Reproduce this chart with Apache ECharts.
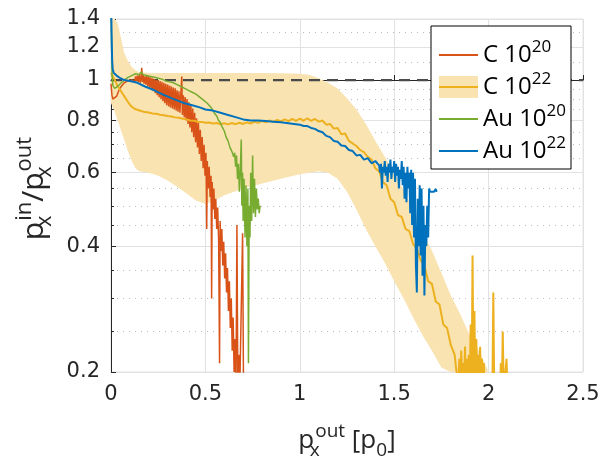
<!DOCTYPE html>
<html><head><meta charset="utf-8">
<script src="https://cdn.jsdelivr.net/npm/echarts@6/dist/echarts.min.js"></script>
<style>html,body{margin:0;padding:0;background:#fff}#c{width:613px;height:458px}</style>
</head><body><div id="c"></div>
<script>
// ---------- data ----------
const xTicks = [0, 0.5, 1, 1.5, 2, 2.5];
const yTicks = [0.2, 0.4, 0.6, 0.8, 1, 1.2, 1.4];
const yMinorTicks = [0.25, 0.3, 0.35, 0.45, 0.5, 0.55, 0.65, 0.7, 0.75, 0.85, 0.9, 0.95, 1.1, 1.3];
const unityLine = [[0, 1], [2.5, 1]];

const c20 = [[0,0.98],[0.005,0.92],[0.01,0.9],[0.02,0.9],[0.03,0.915],[0.04,0.94],[0.05,0.96],[0.07,0.985],[0.09,0.995],[0.1,1.0],[0.11,1.0],[0.12,1.01],[0.125,0.99],[0.13,1.02],[0.135,0.995],[0.14,1.025],[0.145,0.99],[0.15,1.03],[0.155,0.985],[0.16,1.02],[0.163,1.07],[0.166,0.99],[0.17,1.03],[0.175,0.98],[0.18,1.02],[0.185,0.975],[0.19,1.025],[0.195,0.965],[0.2,1.02],[0.205,0.96],[0.21,1.015],[0.215,0.95],[0.22,1.01],[0.225,0.94],[0.23,1.005],[0.235,0.93],[0.24,1.0],[0.245,0.92],[0.25,1.0],[0.255,0.91],[0.26,0.995],[0.265,0.9],[0.27,0.99],[0.275,0.89],[0.28,0.985],[0.285,0.88],[0.29,0.98],[0.295,0.87],[0.3,0.975],[0.305,0.865],[0.31,0.97],[0.315,0.86],[0.32,0.965],[0.325,0.855],[0.33,0.96],[0.335,0.85],[0.34,0.955],[0.345,0.845],[0.35,0.945],[0.355,0.84],[0.36,0.94],[0.365,0.835],[0.37,0.93],[0.375,1.02],[0.378,0.825],[0.383,0.92],[0.388,0.815],[0.393,0.91],[0.398,0.8],[0.403,0.9],[0.408,0.785],[0.413,0.885],[0.418,0.77],[0.423,0.87],[0.428,0.75],[0.433,0.855],[0.438,0.73],[0.443,0.835],[0.448,0.71],[0.453,0.81],[0.458,0.69],[0.463,0.79],[0.468,0.665],[0.473,0.76],[0.478,0.64],[0.483,0.73],[0.488,0.615],[0.493,0.7],[0.498,0.59],[0.503,0.67],[0.507,0.44],[0.51,0.64],[0.515,0.55],[0.52,0.62],[0.525,0.525],[0.53,0.59],[0.533,0.3],[0.536,0.57],[0.54,0.49],[0.545,0.55],[0.55,0.465],[0.555,0.52],[0.56,0.44],[0.565,0.495],[0.57,0.415],[0.575,0.21],[0.578,0.46],[0.582,0.39],[0.587,0.44],[0.592,0.36],[0.597,0.41],[0.602,0.335],[0.607,0.385],[0.612,0.31],[0.617,0.355],[0.622,0.28],[0.627,0.33],[0.632,0.255],[0.637,0.3],[0.642,0.225],[0.647,0.27],[0.652,0.2],[0.657,0.24],[0.662,0.18],[0.667,0.45],[0.672,0.18],[0.677,0.22],[0.682,0.18],[0.692,0.18],[0.697,0.43],[0.702,0.18]];

const c22 = [[0,1.04],[0.005,1.03],[0.01,1.02],[0.02,1.0],[0.03,0.978],[0.04,0.96],[0.05,0.945],[0.06,0.93],[0.07,0.915],[0.08,0.9],[0.09,0.886],[0.1,0.873],[0.11,0.863],[0.12,0.856],[0.13,0.851],[0.14,0.847],[0.16,0.843],[0.18,0.838],[0.2,0.836],[0.22,0.832],[0.24,0.83],[0.26,0.826],[0.28,0.824],[0.3,0.82],[0.32,0.818],[0.34,0.814],[0.36,0.812],[0.38,0.808],[0.4,0.805],[0.42,0.8],[0.44,0.799],[0.46,0.795],[0.48,0.794],[0.5,0.79],[0.52,0.791],[0.54,0.787],[0.56,0.789],[0.58,0.784],[0.6,0.788],[0.62,0.783],[0.64,0.789],[0.66,0.784],[0.68,0.79],[0.7,0.785],[0.72,0.792],[0.74,0.787],[0.76,0.795],[0.78,0.79],[0.8,0.798],[0.82,0.792],[0.84,0.8],[0.86,0.794],[0.88,0.803],[0.9,0.796],[0.92,0.805],[0.94,0.797],[0.96,0.807],[0.98,0.798],[1.0,0.808],[1.02,0.799],[1.04,0.81],[1.06,0.798],[1.08,0.807],[1.1,0.795],[1.12,0.8],[1.14,0.782],[1.16,0.785],[1.18,0.765],[1.2,0.768],[1.22,0.742],[1.24,0.745],[1.26,0.715],[1.28,0.705],[1.3,0.695],[1.32,0.68],[1.34,0.672],[1.36,0.655],[1.38,0.645],[1.4,0.615],[1.42,0.605],[1.44,0.57],[1.46,0.56],[1.48,0.52],[1.5,0.51],[1.52,0.475],[1.54,0.47],[1.56,0.44],[1.58,0.435],[1.6,0.405],[1.62,0.395],[1.64,0.37],[1.66,0.36],[1.68,0.33],[1.7,0.325],[1.72,0.295],[1.74,0.29],[1.76,0.26],[1.78,0.255],[1.8,0.232],[1.82,0.22],[1.83,0.2],[1.84,0.19],[1.845,0.215],[1.85,0.19],[1.855,0.225],[1.86,0.19],[1.865,0.21],[1.87,0.185],[1.875,0.23],[1.88,0.185],[1.885,0.215],[1.89,0.18],[1.895,0.22],[1.9,0.18],[1.905,0.26],[1.91,0.18],[1.915,0.38],[1.92,0.18],[1.925,0.28],[1.93,0.18],[1.935,0.24],[1.94,0.18],[1.945,0.22],[1.95,0.18],[1.955,0.23],[1.96,0.18],[1.965,0.215],[1.97,0.18],[1.975,0.21],[1.98,0.18],[2.02,0.18],[2.025,0.31],[2.03,0.18],[2.06,0.18],[2.065,0.21],[2.07,0.18],[2.075,0.25],[2.08,0.18],[2.09,0.18],[2.095,0.215],[2.1,0.18]];

const bandX    = [0, 0.005, 0.01, 0.02, 0.035, 0.05, 0.07, 0.09, 0.11, 0.13, 0.15, 0.2, 0.25, 0.3, 0.35, 0.4, 0.45, 0.5, 0.55, 0.6, 0.7, 0.8, 0.9, 1.0, 1.05, 1.1, 1.15, 1.2, 1.25, 1.3, 1.35, 1.4, 1.45, 1.5, 1.55, 1.6, 1.65, 1.7, 1.75, 1.8, 1.85, 1.9, 1.95, 2.0];
const bandLow  = [0.88, 0.87, 0.86, 0.84, 0.8, 0.765, 0.72, 0.675, 0.64, 0.615, 0.605, 0.6, 0.59, 0.575, 0.555, 0.535, 0.515, 0.505, 0.515, 0.53, 0.55, 0.565, 0.58, 0.595, 0.6, 0.605, 0.6, 0.58, 0.54, 0.49, 0.44, 0.4, 0.365, 0.33, 0.3, 0.27, 0.245, 0.225, 0.205, 0.18, 0.17, 0.16, 0.15, 0.15];
const bandHigh = [1.7, 1.65, 1.6, 1.48, 1.37, 1.28, 1.16, 1.11, 1.075, 1.055, 1.045, 1.04, 1.04, 1.04, 1.04, 1.04, 1.04, 1.04, 1.04, 1.04, 1.04, 1.04, 1.038, 1.035, 1.03, 1.01, 0.985, 0.955, 0.905, 0.85, 0.785, 0.715, 0.655, 0.6, 0.545, 0.49, 0.435, 0.39, 0.345, 0.305, 0.275, 0.245, 0.225, 0.2];

const au20 = [[0,1.5],[0.003,1.2],[0.006,1.02],[0.01,0.97],[0.02,0.955],[0.03,0.96],[0.04,0.97],[0.05,0.98],[0.07,1.0],[0.09,1.015],[0.11,1.025],[0.13,1.035],[0.14,1.04],[0.15,1.03],[0.16,1.045],[0.17,1.03],[0.18,1.04],[0.19,1.025],[0.2,1.035],[0.21,1.02],[0.22,1.03],[0.23,1.015],[0.24,1.025],[0.25,1.01],[0.26,1.02],[0.27,1.005],[0.28,1.015],[0.29,0.995],[0.3,1.005],[0.31,0.99],[0.32,1.0],[0.33,0.985],[0.34,0.99],[0.35,0.975],[0.36,0.985],[0.37,0.965],[0.38,0.975],[0.39,0.955],[0.4,0.965],[0.41,0.945],[0.42,0.955],[0.43,0.935],[0.44,0.945],[0.45,0.925],[0.46,0.93],[0.47,0.91],[0.48,0.915],[0.49,0.895],[0.5,0.9],[0.51,0.88],[0.52,0.875],[0.53,0.86],[0.54,0.855],[0.55,0.83],[0.56,0.82],[0.57,0.8],[0.58,0.79],[0.59,0.77],[0.6,0.755],[0.61,0.73],[0.62,0.715],[0.63,0.69],[0.64,0.675],[0.65,0.655],[0.655,0.67],[0.66,0.62],[0.665,0.66],[0.67,0.58],[0.675,0.63],[0.68,0.54],[0.685,0.61],[0.69,0.72],[0.693,0.5],[0.697,0.6],[0.7,0.46],[0.705,0.58],[0.71,0.42],[0.715,0.56],[0.72,0.4],[0.725,0.55],[0.728,0.21],[0.732,0.5],[0.736,0.42],[0.74,0.6],[0.745,0.46],[0.75,0.66],[0.755,0.48],[0.76,0.58],[0.765,0.47],[0.77,0.55],[0.775,0.49],[0.78,0.52],[0.785,0.48],[0.79,0.5]];

const au22 = [[0,1.6],[0.003,1.3],[0.006,1.12],[0.009,1.06],[0.015,1.04],[0.025,1.03],[0.035,1.02],[0.05,1.01],[0.07,1.0],[0.1,0.995],[0.14,0.985],[0.18,0.965],[0.23,0.945],[0.27,0.925],[0.32,0.905],[0.36,0.89],[0.39,0.88],[0.43,0.87],[0.47,0.86],[0.5,0.85],[0.54,0.845],[0.58,0.835],[0.62,0.825],[0.66,0.815],[0.7,0.805],[0.74,0.8],[0.78,0.8],[0.82,0.798],[0.86,0.795],[0.9,0.792],[0.94,0.788],[0.98,0.784],[1.0,0.782],[1.02,0.776],[1.04,0.776],[1.06,0.768],[1.08,0.764],[1.1,0.755],[1.12,0.75],[1.14,0.735],[1.16,0.73],[1.18,0.715],[1.2,0.712],[1.22,0.697],[1.24,0.695],[1.26,0.68],[1.28,0.676],[1.3,0.66],[1.32,0.662],[1.34,0.645],[1.36,0.65],[1.38,0.632],[1.4,0.64],[1.42,0.625],[1.425,0.6],[1.43,0.63],[1.435,0.55],[1.44,0.62],[1.445,0.6],[1.45,0.64],[1.455,0.59],[1.46,0.62],[1.465,0.57],[1.47,0.63],[1.475,0.6],[1.48,0.645],[1.485,0.58],[1.49,0.62],[1.495,0.6],[1.5,0.64],[1.505,0.57],[1.51,0.63],[1.515,0.59],[1.52,0.62],[1.525,0.55],[1.53,0.61],[1.535,0.58],[1.54,0.64],[1.545,0.56],[1.55,0.62],[1.555,0.52],[1.56,0.6],[1.565,0.51],[1.57,0.62],[1.575,0.55],[1.58,0.6],[1.585,0.48],[1.59,0.61],[1.595,0.45],[1.6,0.6],[1.605,0.42],[1.61,0.58],[1.615,0.36],[1.62,0.31],[1.625,0.52],[1.63,0.4],[1.635,0.56],[1.64,0.38],[1.645,0.55],[1.65,0.34],[1.655,0.5],[1.66,0.305],[1.665,0.45],[1.67,0.4],[1.675,0.5],[1.68,0.42],[1.685,0.55],[1.69,0.54],[1.7,0.545],[1.71,0.54],[1.72,0.548],[1.725,0.54]];

const seriesNames = ['C 10^20', 'C 10^22', 'Au 10^20', 'Au 10^22'];
const seriesColors = ['#D95319', '#EDB120', '#77AC30', '#0072BD'];
const bandColor = '#F9E3B1';

// ---------- helpers ----------
const L = v => Math.log10(v);
const toLog = pts => pts.map(p => [p[0], L(p[1])]);
const yMin = L(yTicks[0]), yMax = L(yTicks[yTicks.length - 1]);

function legendFmt(name) {
  const parts = name.split('^');
  return '{b|' + parts[0] + '}{s|' + parts[1] + '}';
}
function legendRich(col) {
  return {
    b: {fontFamily: 'Open Sans', fontSize: 24, color: col, lineHeight: 32},
    s: {fontFamily: 'Open Sans', fontSize: 17, color: col, lineHeight: 17, verticalAlign: 'top'}
  };
}
const legendCommon = {
  orient: 'vertical', left: 431, top: 26, padding: [13, 5, 6, 8],
  itemWidth: 39, itemHeight: 22, itemGap: 4, selectedMode: false,
  formatter: legendFmt
};
const titleRichX = {
  t:  {fontFamily: 'Open Sans', fontSize: 26, color: '#262626', lineHeight: 38},
  sp: {fontFamily: 'Open Sans', fontSize: 19, color: '#262626', lineHeight: 19, verticalAlign: 'top'},
  sb: {fontFamily: 'Open Sans', fontSize: 19, color: '#262626', lineHeight: 19, verticalAlign: 'bottom', width: 1},
  sb0:{fontFamily: 'Open Sans', fontSize: 19, color: '#262626', lineHeight: 19, verticalAlign: 'bottom'}
};
const titleRichY = {
  t:  {fontFamily: 'Open Sans', fontSize: 30, color: '#262626', lineHeight: 42},
  sp: {fontFamily: 'Open Sans', fontSize: 22, color: '#262626', lineHeight: 21, verticalAlign: 'top'},
  sb: {fontFamily: 'Open Sans', fontSize: 22, color: '#262626', lineHeight: 21, verticalAlign: 'bottom', width: 1}
};

const chart = echarts.init(document.getElementById('c'), null, {renderer: 'canvas'});
const lineSeries = (i, data, w) => ({
  type: 'line', name: seriesNames[i], data: toLog(data), symbol: 'none', showSymbol: false,
  lineStyle: {color: seriesColors[i], width: w}, itemStyle: {color: seriesColors[i]},
  clip: true, silent: true, z: 3
});

chart.setOption({
  animation: false,
  backgroundColor: '#fff',
  grid: {left: 111, top: 19, width: 472, height: 353, containLabel: false, outerBoundsMode: 'none',
         show: true, borderColor: '#e2e2e2', borderWidth: 1, backgroundColor: 'transparent'},
  legend: [
    Object.assign({}, legendCommon, {
      backgroundColor: '#fff', borderColor: '#000', borderWidth: 1, borderRadius: 0,
      textStyle: {rich: legendRich('#000')},
      data: seriesNames.map(n => ({
        name: n, icon: 'rect',
        itemStyle: {color: n === 'C 10^22' ? bandColor : 'rgba(0,0,0,0)', borderWidth: 0, opacity: 1}
      }))
    }),
    Object.assign({}, legendCommon, {
      backgroundColor: 'rgba(0,0,0,0)', borderWidth: 0,
      textStyle: {rich: legendRich('rgba(0,0,0,0)')},
      data: seriesNames.map((n, i) => ({
        name: n, icon: 'path://M0 0 H38 V2 H0 Z',
        itemStyle: {color: seriesColors[i], borderWidth: 0, opacity: 1}
      }))
    })
  ],
  xAxis: {
    type: 'value', min: xTicks[0], max: xTicks[xTicks.length - 1], interval: 0.5,
    axisLine: {show: true, lineStyle: {color: '#262626', width: 1}},
    axisTick: {show: true, inside: true, length: 5, lineStyle: {color: '#262626'}},
    axisLabel: {margin: 12, fontFamily: 'DejaVu Sans', fontSize: 21, color: '#262626',
                formatter: v => String(+v.toFixed(2))},
    splitLine: {show: true, lineStyle: {color: '#e2e2e2', width: 1}},
    name: '{t|p}{sb|x}{sp|out}{t| [p}{sb0|0}{t|]}',
    nameLocation: 'middle', nameGap: 50,
    nameTextStyle: {rich: titleRichX}
  },
  yAxis: [
    {
      type: 'value', min: yMin, max: yMax, position: 'left',
      axisLine: {show: true, lineStyle: {color: '#262626', width: 1}},
      axisTick: {show: true, inside: true, length: 5, customValues: yTicks.map(L), lineStyle: {color: '#262626'}},
      axisLabel: {show: true, margin: 11, fontFamily: 'DejaVu Sans', fontSize: 21, color: '#262626',
                  customValues: yTicks.map(L),
                  formatter: v => String(Math.round(Math.pow(10, v) * 100) / 100)},
      splitLine: {show: true, lineStyle: {color: '#e2e2e2', width: 1}},
      name: '{t|p}{sb|x}{sp|in}{t|/p}{sb|x}{sp|out}',
      nameLocation: 'middle', nameGap: 36, nameRotate: 90,
      nameTextStyle: {rich: titleRichY, padding: [0, 0, 0, 14]}
    },
    {
      type: 'value', min: yMin, max: yMax, position: 'left',
      axisLine: {show: false},
      axisTick: {show: true, inside: true, length: 3, customValues: yMinorTicks.map(L), lineStyle: {color: '#262626'}},
      axisLabel: {show: false},
      splitLine: {show: true, lineStyle: {color: '#bcbcbc', width: 1, type: [1, 5]}}
    }
  ],
  series: [
    {
      type: 'custom', name: 'band', silent: true, z: 1, coordinateSystem: 'cartesian2d',
      data: bandX.map((x, i) => [x, L(bandLow[i]), L(bandHigh[i])]),
      encode: {x: 0, y: [1, 2]},
      renderItem: function (params, api) {
        if (params.dataIndex !== 0) return null;
        const pts = [];
        for (let i = 0; i < bandX.length; i++) pts.push(api.coord([bandX[i], L(bandHigh[i])]));
        for (let i = bandX.length - 1; i >= 0; i--) pts.push(api.coord([bandX[i], L(bandLow[i])]));
        const cs = params.coordSys;
        const clipped = echarts.graphic.clipPointsByRect(pts, {x: cs.x, y: cs.y, width: cs.width, height: cs.height});
        return {type: 'polygon', shape: {points: clipped}, style: {fill: bandColor}};
      }
    },
    {type: 'line', name: 'unity', data: toLog(unityLine), symbol: 'none', silent: true,
     lineStyle: {color: '#4a4a4a', width: 2.2, type: [11, 7]}, z: 2},
    lineSeries(0, c20, 1.5),
    lineSeries(1, c22, 2),
    lineSeries(2, au20, 1.5),
    lineSeries(3, au22, 2)
  ]
});
</script></body></html>
